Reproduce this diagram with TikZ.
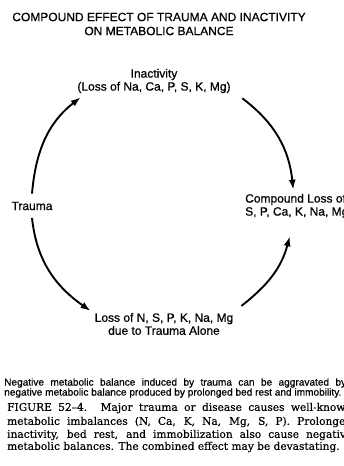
\documentclass[tikz,border=0pt]{standalone}
\usepackage{fontspec}
\setmainfont{DejaVu Serif}[FakeBold=0.4]
\setsansfont{Liberation Sans}[FakeBold=0.6]
\usetikzlibrary{arrows.meta}
\tikzset{every path/.style={black}, lbl/.style={font=\sffamily\fontsize{12}{13}\selectfont, inner sep=1pt, align=center},
  flow/.style={line width=1.9pt, -{Latex[length=10pt,width=7pt]}},
  capsans/.style={font=\sffamily\fontsize{10.1}{10}\selectfont, inner sep=0pt, anchor=west},
  capserif/.style={font=\rmfamily\fontsize{10.6}{13}\selectfont, inner sep=0pt, anchor=west}}

\begin{document}
\begin{tikzpicture}[x=1pt,y=1pt]
   \useasboundingbox (0,0) rectangle (343,466);
   \fill[white] (0,0) rectangle (343,466);
   \node[lbl, font=\sffamily\fontsize{12}{14}\selectfont] (title) at (159,442) {COMPOUND EFFECT OF TRAUMA AND INACTIVITY\\ON METABOLIC BALANCE};
   \node[lbl] (inact) at (154,385) {Inactivity\\(Loss of Na, Ca, P, S, K, Mg)};
   \node[lbl] (trauma) at (32,260) {Trauma};
   \node[lbl, align=left, anchor=west] (comp) at (244,260) {Compound Loss of\\S, P, Ca, K, Na, Mg};
   \node[lbl] (loss) at (164,142) {Loss of N, S, P, K, Na, Mg\\due to Trauma Alone};
   \draw[flow] ([yshift=7pt]trauma.north) to[out=85,in=218] ([shift={(4.5pt,-3pt)}]inact.south west);
   \draw[flow] ([shift={(10.5pt,-4pt)}]inact.south east) to[out=-37,in=96] ([shift={(-3.5pt,3pt)}]comp.north);
   \draw[flow] ([yshift=-6.5pt]trauma.south) to[out=-84,in=145] ([shift={(-3pt,1pt)}]loss.north west);
   \draw[flow] ([shift={(7pt,6pt)}]loss.north east) to[out=38,in=255] ([shift={(-7pt,-17pt)}]comp.south);
   % caption
   \node[capsans] (cap1) at (4,83) {\makebox[342pt][s]{Negative metabolic balance induced by trauma can be aggravated by}};
   \node[capsans] (cap2) at (4,73) {negative metabolic balance produced by prolonged bed rest and immobility.};
   \node[capserif] (fig1) at (7,58) {\makebox[345pt][s]{FIGURE 52--4. Major trauma or disease causes well-known}};
   \node[capserif] (fig2) at (7,44) {\makebox[345pt][s]{metabolic imbalances (N, Ca, K, Na, Mg, S, P). Prolonged}};
   \node[capserif] (fig3) at (7,31) {\makebox[345pt][s]{inactivity, bed rest, and immobilization also cause negative}};
   \node[capserif] (fig4) at (7,19) {metabolic balances. The combined effect may be devastating.};
\end{tikzpicture}
\end{document}
